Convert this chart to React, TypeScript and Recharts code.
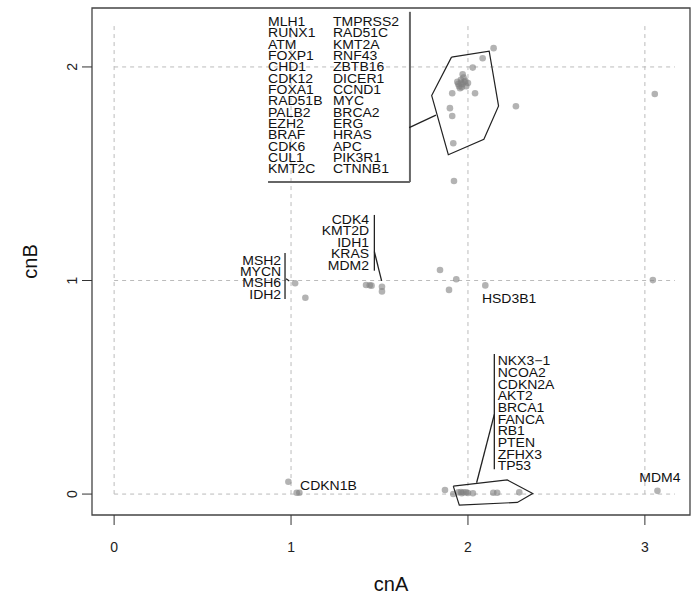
import { ScatterChart, Scatter, XAxis, YAxis, ReferenceLine, ReferenceArea } from "recharts";

// copy-number points (cnA, cnB)
const cnA = [
  2.145, 2.083, 2.027, 1.97, 1.94, 1.95, 1.96, 1.97, 1.98, 1.99, 1.955, 1.975, 1.965, 1.985, 1.945, 2.0,
  1.96, 1.911, 2.04, 1.898, 1.911, 2.271, 1.917, 1.921, 3.056,
  1.023, 1.081, 1.424, 1.445, 1.455, 1.514, 1.514, 1.842, 1.934, 1.893, 2.098, 3.045,
  0.985, 1.032, 1.047, 1.87, 1.917, 1.945, 1.96, 1.975, 1.99, 2.0, 1.965, 2.028, 2.143, 2.165, 2.29, 3.071,
];
const cnB = [
  2.088, 2.041, 1.997, 1.966, 1.93, 1.91, 1.94, 1.92, 1.93, 1.91, 1.9, 1.95, 1.905, 1.935, 1.92, 1.925,
  1.925, 1.877, 1.877, 1.807, 1.77, 1.816, 1.643, 1.466, 1.873,
  0.987, 0.919, 0.979, 0.978, 0.976, 0.971, 0.949, 1.049, 1.006, 0.956, 0.977, 1.002,
  0.058, 0.006, 0.006, 0.019, 0.0, 0.008, 0.01, 0.008, 0.008, 0.005, 0.004, 0.004, 0.006, 0.006, 0.008, 0.015,
];

const topLeftGenes = ["MLH1", "RUNX1", "ATM", "FOXP1", "CHD1", "CDK12", "FOXA1", "RAD51B", "PALB2", "EZH2", "BRAF", "CDK6", "CUL1", "KMT2C"];
const topRightGenes = ["TMPRSS2", "RAD51C", "KMT2A", "RNF43", "ZBTB16", "DICER1", "CCND1", "MYC", "BRCA2", "ERG", "HRAS", "APC", "PIK3R1", "CTNNB1"];
const midLeftGenes = ["MSH2", "MYCN", "MSH6", "IDH2"];
const midGenes = ["CDK4", "KMT2D", "IDH1", "KRAS", "MDM2"];
const bottomGenes = ["NKX3\u22121", "NCOA2", "CDKN2A", "AKT2", "BRCA1", "FANCA", "RB1", "PTEN", "ZFHX3", "TP53"];

const xTicks = [0, 1, 2, 3];
const yTicks = [0, 1, 2];
const xDomain: [number, number] = [-0.125, 3.255];
const yDomain: [number, number] = [-0.098, 2.276];

// hulls drawn around the two dense groups
const topHull = [
  { x: 1.907, y: 2.046 }, { x: 2.12, y: 2.074 }, { x: 2.173, y: 1.817 }, { x: 2.09, y: 1.661 },
  { x: 1.889, y: 1.589 }, { x: 1.795, y: 1.866 }, { x: 1.907, y: 2.046 },
];
const bottomHull = [
  { x: 1.917, y: 0.037 }, { x: 2.222, y: 0.066 }, { x: 2.366, y: 0.003 }, { x: 2.279, y: -0.039 },
  { x: 1.951, y: -0.052 }, { x: 1.917, y: 0.037 },
];

const points = cnA.map((a, i) => ({ x: a, y: cnB[i] }));

const labels = [
  { x: 0.87, y: 2.213, lines: topLeftGenes, anchor: "start", step: 11.32 },
  { x: 1.237, y: 2.213, lines: topRightGenes, anchor: "start", step: 11.32 },
  { x: 0.944, y: 1.096, lines: midLeftGenes, anchor: "end", step: 11.3 },
  { x: 1.441, y: 1.288, lines: midGenes, anchor: "end", step: 11.5 },
  { x: 2.168, y: 0.624, lines: bottomGenes, anchor: "start", step: 11.67 },
  { x: 2.079, y: 0.918, lines: ["HSD3B1"], anchor: "start", step: 0 },
  { x: 1.051, y: 0.042, lines: ["CDKN1B"], anchor: "start", step: 0 },
  { x: 3.085, y: 0.08, lines: ["MDM4"], anchor: "middle", step: 0 },
];

const font = "'Liberation Sans', Arial, Helvetica, sans-serif";
const squash = 0.87; // the original device was not square: glyphs look a bit flattened

const Dot = (props: any) => (
  <circle cx={props.cx} cy={props.cy} r={3.3} fill="#808080" fillOpacity={0.6} />
);

const LabelShape = (props: any) => {
  const { cx, cy, payload } = props;
  return (
    <g transform={`translate(${cx} ${cy}) scale(1 ${squash})`}>
      <text textAnchor={payload.anchor} fontSize={14} fill="#111" fontFamily={font} dominantBaseline="central">
        {payload.lines.map((s: string, i: number) => (
          <tspan key={i} x={0} y={(i * payload.step) / squash}>{s}</tspan>
        ))}
      </text>
    </g>
  );
};

const XTick = (props: any) => (
  <text x={props.x} y={props.y + 20} textAnchor="middle" dominantBaseline="central" fontSize={14} fill="#222" fontFamily={font}>
    {props.payload.value}
  </text>
);

const YTick = (props: any) => {
  const x = props.x - 8;
  return (
    <text x={x} y={props.y} transform={`rotate(-90 ${x} ${props.y})`} textAnchor="middle" dominantBaseline="central" fontSize={14} fill="#222" fontFamily={font}>
      {props.payload.value}
    </text>
  );
};

const seg = (x1: number, y1: number, x2: number, y2: number) => [{ x: x1, y: y1 }, { x: x2, y: y2 }];

export default function App() {
  const leader = { stroke: "#222", strokeWidth: 1.3 };
  return (
    <div style={{ position: "absolute", left: 0, top: 0, background: "#fff" }}>
      <ScatterChart width={693} height={599} margin={{ top: 8, right: 3, bottom: 0, left: 0 }}>
        <XAxis
          type="number"
          dataKey="x"
          domain={xDomain}
          ticks={xTicks}
          allowDataOverflow
          height={84}
          axisLine={false}
          tickSize={10}
          tickLine={{ stroke: "#333" }}
          tick={<XTick />}
          label={{ value: "cnA", position: "insideBottom", offset: 8, fontSize: 20, fill: "#111", fontFamily: font }}
        />
        <YAxis
          type="number"
          dataKey="y"
          domain={yDomain}
          ticks={yTicks}
          allowDataOverflow
          width={92}
          axisLine={false}
          tickSize={10}
          tickLine={{ stroke: "#333" }}
          tick={<YTick />}
          label={{
            content: (p: any) => {
              const vb = p.viewBox;
              const cx = 30;
              const cy = vb.y + vb.height / 2;
              return (
                <text x={cx} y={cy} transform={`rotate(-90 ${cx} ${cy})`} textAnchor="middle" dominantBaseline="central" fontSize={20} fill="#111" fontFamily={font}>
                  cnB
                </text>
              );
            },
          }}
        />
        {xTicks.map((t) => (
          <ReferenceLine key={"vx" + t} segment={seg(t, 0, t, 2.2)} stroke="#bbb" strokeDasharray="4 4" />
        ))}
        {yTicks.map((t) => (
          <ReferenceLine key={"hy" + t} segment={seg(0, t, 3.17, t)} stroke="#bbb" strokeDasharray="4 4" />
        ))}
        <Scatter data={points} shape={<Dot />} isAnimationActive={false} />
        <Scatter data={topHull} line={{ stroke: "#222", strokeWidth: 1.2 }} shape={() => <g />} isAnimationActive={false} />
        <Scatter data={bottomHull} line={{ stroke: "#222", strokeWidth: 1.2 }} shape={() => <g />} isAnimationActive={false} />
        <ReferenceLine segment={seg(1.672, 2.258, 1.672, 1.461)} stroke="#666" strokeWidth={2} />
        <ReferenceLine segment={seg(1.672, 1.461, 0.87, 1.461)} stroke="#666" strokeWidth={2} />
        <ReferenceLine segment={seg(1.668, 1.716, 1.819, 1.774)} {...leader} />
        <ReferenceLine segment={seg(0.966, 1.129, 0.966, 0.913)} {...leader} />
        <ReferenceLine segment={seg(0.972, 1.008, 0.99, 0.998)} {...leader} />
        <ReferenceLine segment={seg(1.471, 1.307, 1.471, 1.046)} {...leader} />
        <ReferenceLine segment={seg(1.471, 1.135, 1.512, 0.998)} {...leader} />
        <ReferenceLine segment={seg(2.149, 0.656, 2.149, 0.116)} {...leader} />
        <ReferenceLine segment={seg(2.149, 0.373, 2.049, 0.053)} {...leader} />
        <Scatter data={labels} shape={<LabelShape />} isAnimationActive={false} />
        <ReferenceArea x1={xDomain[0]} x2={xDomain[1]} y1={yDomain[0]} y2={yDomain[1]} fill="none" stroke="#444" strokeWidth={1.3} ifOverflow="visible" />
      </ScatterChart>
    </div>
  );
}
